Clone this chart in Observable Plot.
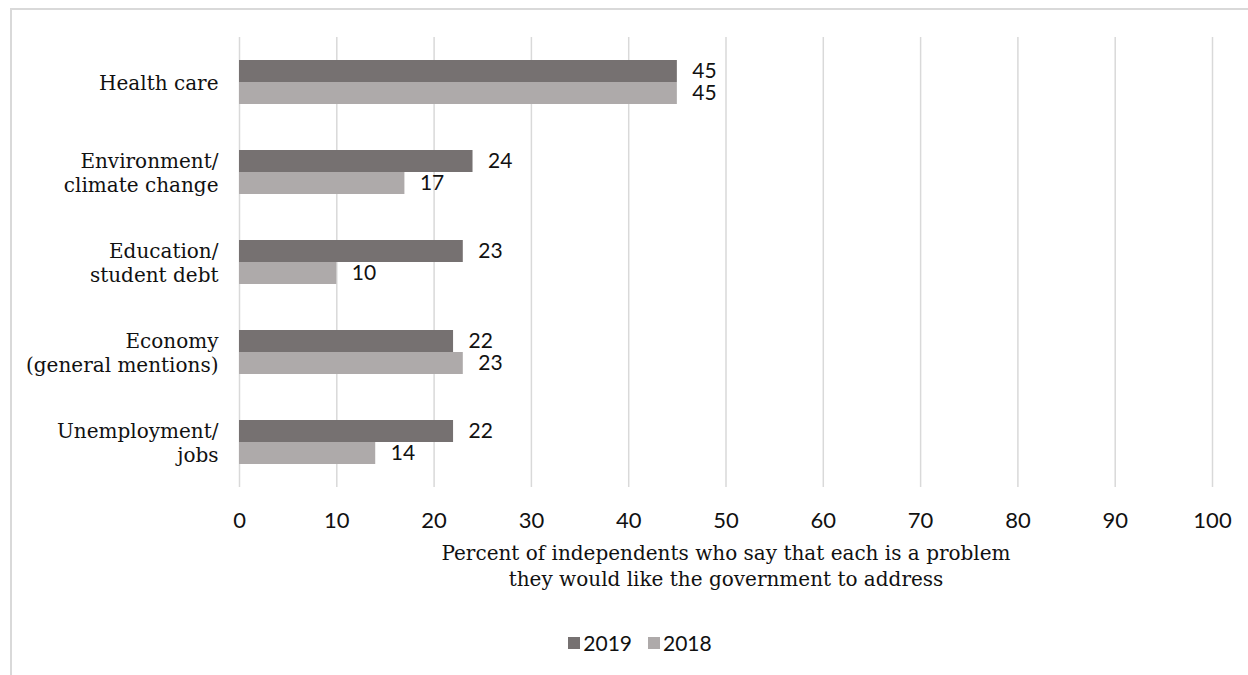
<!DOCTYPE html>
<html>
<head>
<meta charset="utf-8">
<script src="https://cdn.jsdelivr.net/npm/d3@7"></script>
<script src="https://cdn.jsdelivr.net/npm/@observablehq/plot@0.6"></script>
<style>
  html, body { margin: 0; padding: 0; background: #fff; }
  #wrap { position: relative; width: 1248px; height: 675px; overflow: hidden; }
  #frame { position: absolute; left: 10px; top: 8px; width: 1300px; height: 700px;
           border-top: 2px solid #d9d9d9; border-left: 2px solid #d9d9d9; }
  #chart { position: absolute; left: 0; top: 0; }
  #legend { position: absolute; left: 0; width: 1248px; top: 630px; display: flex; justify-content: center;
            gap: 16px; font-family: Lato, "Noto Sans", sans-serif; font-size: 21px; color: #111; padding-left: 32px; box-sizing: border-box; }
  .sw { display: inline-flex; align-items: center; gap: 3px; }
  .sq { width: 12px; height: 12px; display: inline-block; }
</style>
</head>
<body>
<div id="wrap">
  <div id="frame"></div>
  <div id="chart"></div>
  <div id="legend"></div>
</div>
<script>
const categories = ["Health care", "Environment/\nclimate change", "Education/\nstudent debt", "Economy\n(general mentions)", "Unemployment/\njobs"];
const years = ["2019", "2018"];
const values2019 = [45, 24, 23, 22, 22];
const values2018 = [45, 17, 10, 23, 14];
const colors = ["#767171", "#aeaaaa"];
const xTicks = [0, 10, 20, 30, 40, 50, 60, 70, 80, 90, 100];
const xTitleLines = ["Percent of independents who say that each is a problem", "they would like the government to address"];

const data = [];
categories.forEach((c, i) => {
  data.push({category: c, year: years[0], value: values2019[i]});
  data.push({category: c, year: years[1], value: values2018[i]});
});

const serif = '"DejaVu Serif", serif';
const num = 'Lato, "Noto Sans", sans-serif';

const chart = Plot.plot({
  width: 1248,
  height: 600,
  marginTop: 35,
  marginBottom: 112,
  marginLeft: 239,
  marginRight: 36,
  style: {background: "transparent", color: "#111"},
  x: {domain: [0, 100]},
  y: {domain: years, paddingInner: 0, paddingOuter: 0.957, axis: null},
  fy: {domain: categories, padding: 0, label: null, axis: null},
  color: {domain: years, range: colors},
  marks: [
    Plot.gridX(xTicks, {stroke: "#d9d9d9", strokeOpacity: 1, strokeWidth: 1.5}),
    Plot.barX(data, {x: "value", y: "year", fy: "category", fill: "year"}),
    Plot.text(data, {x: "value", y: "year", fy: "category", text: d => String(d.value),
      dx: 15, textAnchor: "start", fontFamily: num, fontSize: 21, fill: "#111"}),
    Plot.axisFy({anchor: "left", tickSize: 0, tickPadding: 21, label: null,
      fontFamily: serif, fontSize: 20, lineHeight: 1.2, fill: "#111"}),
    Plot.axisX(xTicks, {anchor: "bottom", tickSize: 0, tickPadding: 25, label: null,
      fontFamily: num, fontSize: 22, fill: "#111"}),
    Plot.axisX(xTicks, {anchor: "bottom", tickSize: 0, tickFormat: () => "", label: xTitleLines[0],
      labelAnchor: "center", labelArrow: "none", labelOffset: 72,
      fontFamily: serif, fontSize: 20, fill: "#111"}),
    Plot.axisX(xTicks, {anchor: "bottom", tickSize: 0, tickFormat: () => "", label: xTitleLines[1],
      labelAnchor: "center", labelArrow: "none", labelOffset: 98,
      fontFamily: serif, fontSize: 20, fill: "#111"})
  ]
});
document.getElementById("chart").appendChild(chart);

const lg = document.getElementById("legend");
years.forEach((y, i) => {
  const s = document.createElement("span");
  s.className = "sw";
  const q = document.createElement("span");
  q.className = "sq";
  q.style.background = colors[i];
  s.appendChild(q);
  s.appendChild(document.createTextNode(y));
  lg.appendChild(s);
});
</script>
</body>
</html>
